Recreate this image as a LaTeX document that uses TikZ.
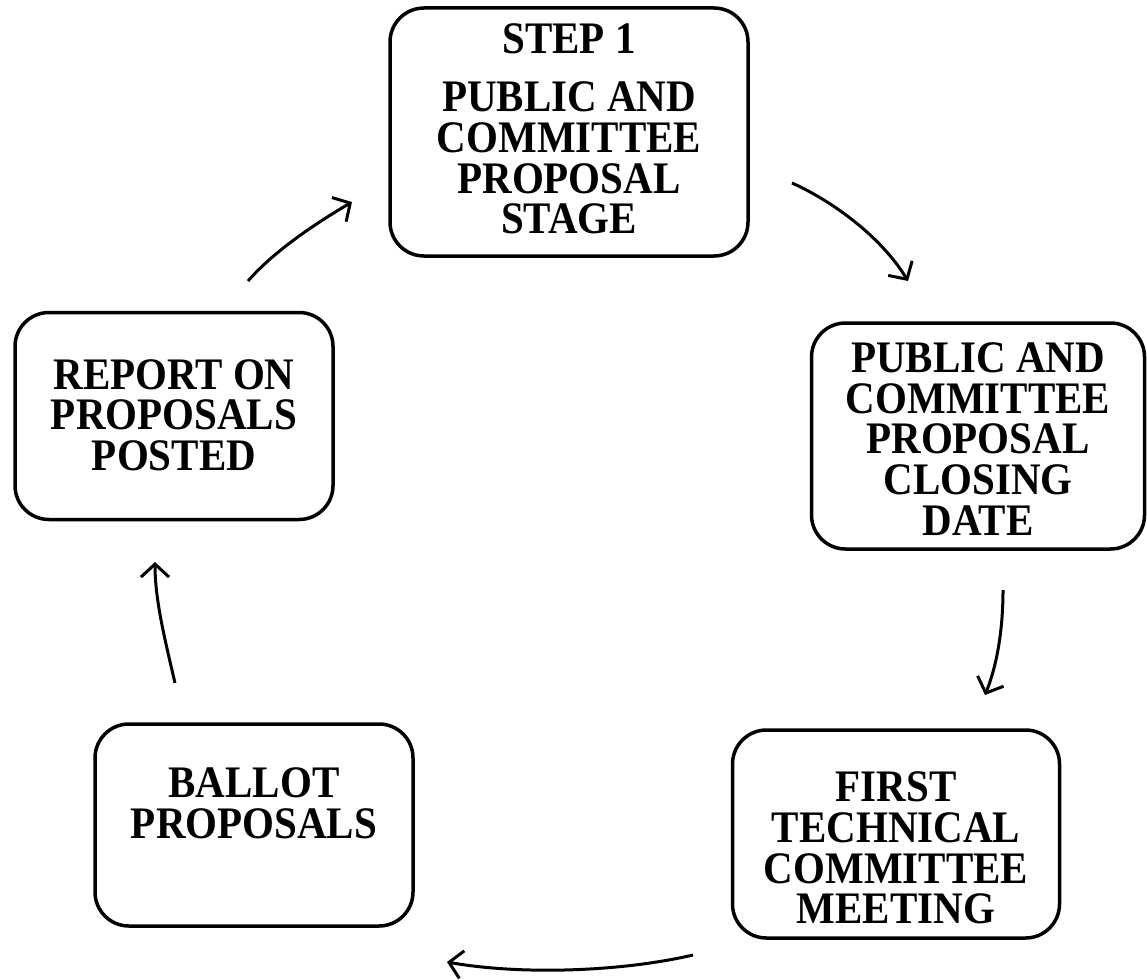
\documentclass[tikz,border=0pt]{standalone}
\usepackage{fontspec}
\setmainfont{Liberation Serif}
\usetikzlibrary{arrows.meta}
\begin{document}
\begin{tikzpicture}[x=1pt,y=-1pt,
  box/.style={draw=black, line width=3.5pt, rounded corners=34pt, inner sep=0pt},
  lbl/.style={font=\fontsize{41}{37}\selectfont\bfseries, align=center, inner sep=0pt, yscale=1.1, transform shape},
  arr/.style={line width=3pt, -{Straight Barb[length=13pt,width=28pt,line width=3pt]}}]
\useasboundingbox (0,0) rectangle (1147,979);
% boxes
\node[box, minimum width=358pt, minimum height=248pt] (b1) at (569,132) {};
\node[box, minimum width=333pt, minimum height=226pt] (b2) at (978,436) {};
\node[box, minimum width=327pt, minimum height=208pt] (b3) at (896,834) {};
\node[box, minimum width=318pt, minimum height=202pt] (b4) at (254,825) {};
\node[box, minimum width=318pt, minimum height=207pt] (b5) at (174,416) {};
% labels
\node[lbl] (t1a) at (569,39) {STEP 1};
\node[lbl] (t1) at (569,158) {PUBLIC AND\\COMMITTEE\\PROPOSAL\\STAGE};
\node[lbl] (t2) at (978,439) {PUBLIC AND\\COMMITTEE\\PROPOSAL\\CLOSING\\DATE};
\node[lbl] (t3) at (896,848) {FIRST\\TECHNICAL\\COMMITTEE\\MEETING};
\node[lbl] (t4) at (254,803) {BALLOT\\PROPOSALS};
\node[lbl] (t5) at (174,415) {REPORT ON\\PROPOSALS\\POSTED};
% arrow end points
\coordinate (a1s) at (792,183); \coordinate (a1e) at (908,281);
\coordinate (a2s) at (1003,590); \coordinate (a2e) at (985,695);
\coordinate (a3s) at (693,955); \coordinate (a3e) at (447,962);
\coordinate (a4s) at (175,683); \coordinate (a4e) at (155,562);
\coordinate (a5s) at (248,281); \coordinate (a5e) at (352,202);
\draw[arr] (a1s) .. controls (830,200) and (880,235) .. (a1e);
\draw[arr] (a2s) .. controls (1003,630) and (997,665) .. (a2e);
\draw[arr] (a3s) .. controls (620,972) and (520,975) .. (a3e);
\draw[arr] (a4s) .. controls (165,640) and (155,600) .. (a4e);
\draw[arr] (a5s) .. controls (275,250) and (318,222) .. (a5e);
\end{tikzpicture}
\end{document}
